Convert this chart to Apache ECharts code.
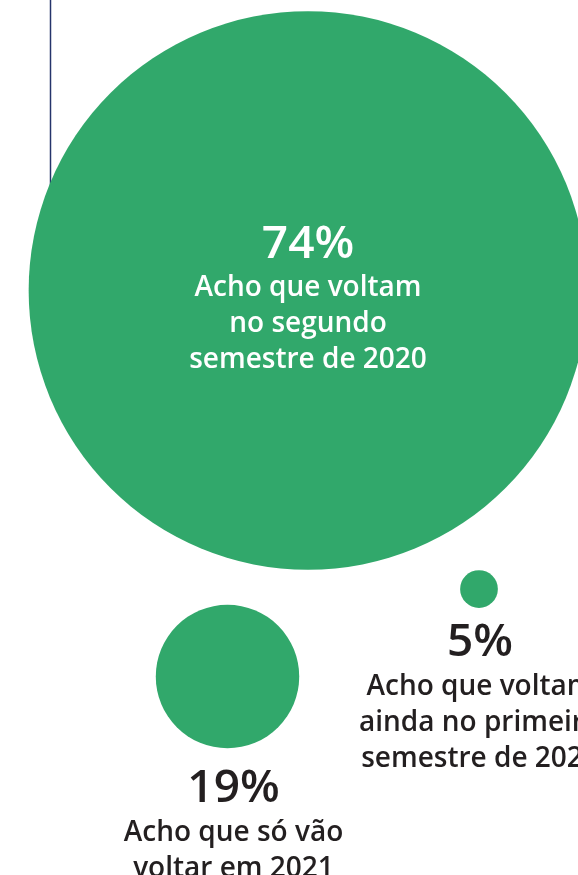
<!DOCTYPE html>
<html>
<head>
<meta charset="utf-8">
<title>Volta às aulas</title>
<script src="https://cdn.jsdelivr.net/npm/echarts@6/dist/echarts.min.js"></script>
<style>
  html, body { margin: 0; padding: 0; background: #ffffff; }
  #chart { width: 578px; height: 875px; }
</style>
</head>
<body>
<div id="chart"></div>
<script>
// dados do gráfico
const categories = [
  'Acho que voltam no segundo semestre de 2020',
  'Acho que voltam ainda no primeiro semestre de 2021',
  'Acho que só vão voltar em 2021'
]
const percents = [74, 5, 19]
const labelLines = [
  ['Acho que voltam', 'no segundo', 'semestre de 2020'],
  ['Acho que voltam', 'ainda no primeiro', 'semestre de 2021'],
  ['Acho que só vão', 'voltar em 2021']
]

// layout das bolhas (posição do centro no plano da página)
const layout = {
  centers: [[308, 290.5], [479, 589], [227.5, 676.5]],
  pxPerPoint: 7.55, // diâmetro da bolha por ponto percentual
  labels: [
    { position: 'inside', offset: [0, 8], color: '#ffffff' },
    { position: 'bottom', distance: 9, offset: [1, 0], color: '#231f20' },
    { position: 'bottom', distance: 15, offset: [6, 0], color: '#231f20' }
  ]
}

const green = '#31a86b'
const font = '"Open Sans", "Noto Sans", sans-serif'

let myChart = echarts.init(document.getElementById('chart'))

const seriesData = percents.map(function (p, i) {
  const lab = layout.labels[i]
  return {
    name: categories[i],
    value: [layout.centers[i][0], layout.centers[i][1], p],
    label: {
      show: true,
      position: lab.position,
      distance: lab.distance || 0,
      offset: lab.offset,
      align: 'center',
      formatter: '{p|' + p + '%}\n' + labelLines[i].map(function (t) { return '{d|' + t + '}' }).join('\n'),
      rich: {
        p: { fontFamily: font, fontSize: 46, fontWeight: 600, lineHeight: 52, color: lab.color, align: 'center' },
        d: { fontFamily: font, fontSize: 28, fontWeight: 600, lineHeight: 36, color: lab.color, align: 'center' }
      }
    }
  }
})

myChart.setOption({
  animation: false,
  grid: { left: 0, right: 0, top: 0, bottom: 0 },
  xAxis: { type: 'value', min: 0, max: 578, show: false },
  yAxis: { type: 'value', min: 0, max: 875, inverse: true, show: false },
  graphic: [{
    type: 'line',
    z: 0,
    shape: { x1: 50.5, y1: 0, x2: 50.5, y2: 186 },
    style: { stroke: '#25346b', lineWidth: 1.5 }
  }],
  series: [{
    type: 'scatter',
    z: 5,
    data: seriesData,
    symbol: 'circle',
    symbolSize: function (val) { return val[2] * layout.pxPerPoint },
    itemStyle: { color: green, opacity: 1 },
    emphasis: { disabled: true },
    clip: false
  }]
})
</script>
</body>
</html>
